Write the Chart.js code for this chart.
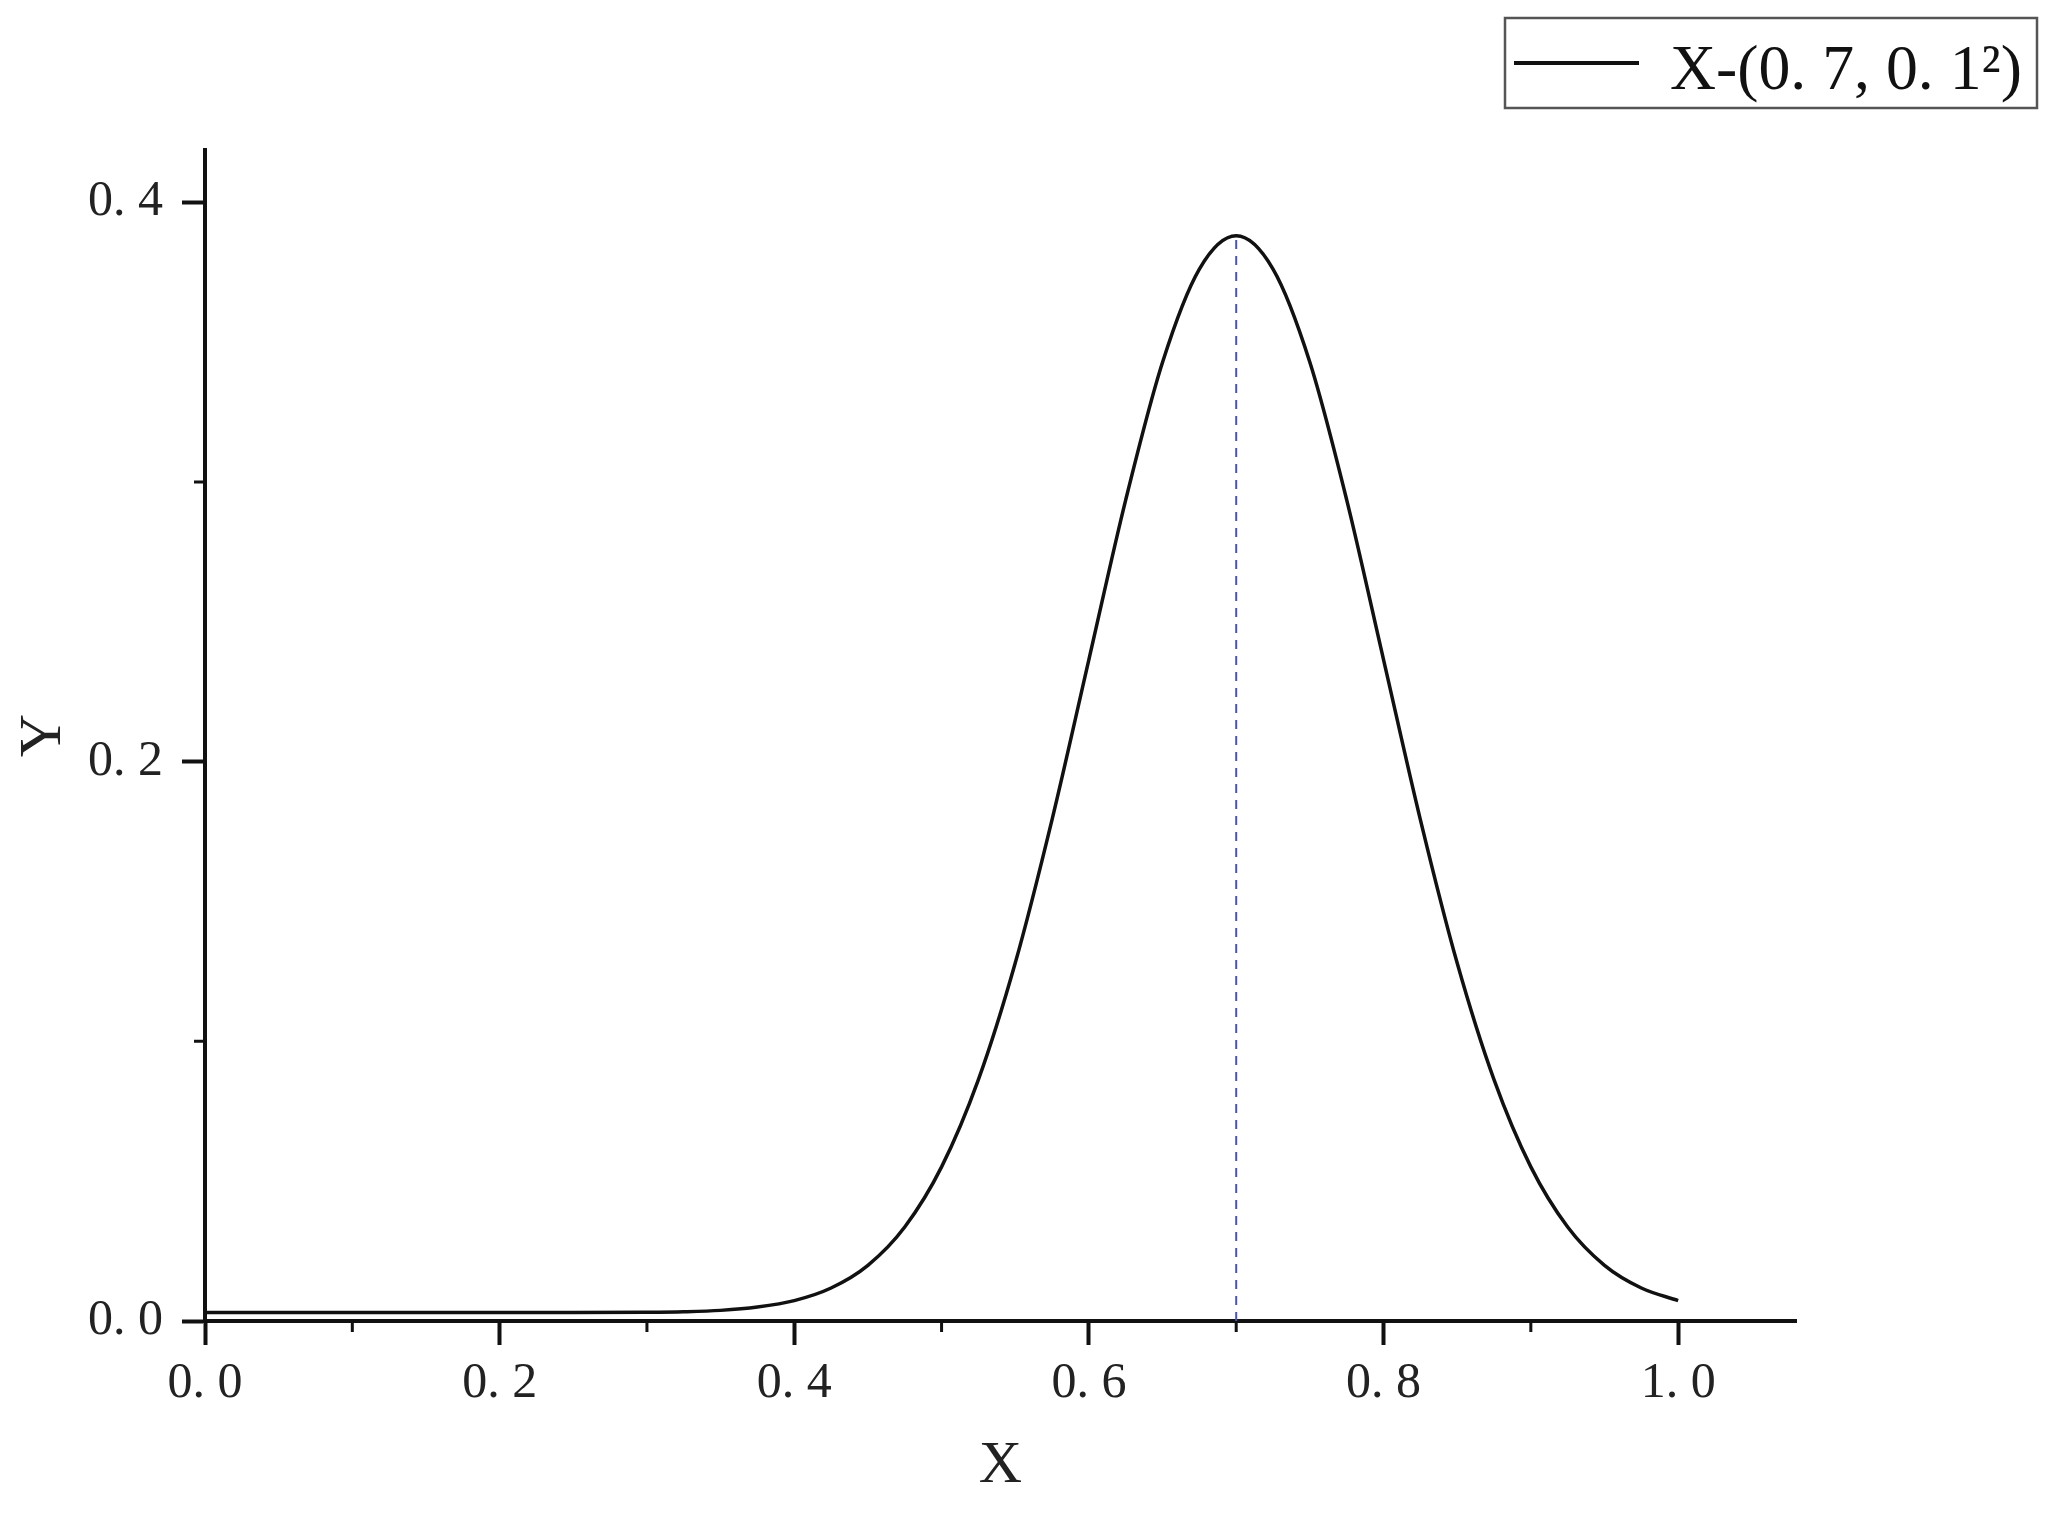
<!DOCTYPE html>
<html>
<head>
<meta charset="utf-8">
<script src="https://cdn.jsdelivr.net/npm/chart.js@4.4.0/dist/chart.umd.min.js"></script>
<style>
  html, body { margin: 0; padding: 0; background: #fff; }
  #wrap { width: 2059px; height: 1517px; }
</style>
</head>
<body>
<div id="wrap"><canvas id="curveChart" width="2059" height="1517"></canvas></div>
<script>
// values
const X_VALUES = [0, 0.1, 0.2, 0.25, 0.3, 0.325, 0.35, 0.375, 0.4, 0.425, 0.45, 0.475, 0.5,
  0.525, 0.55, 0.575, 0.6, 0.625, 0.65, 0.675, 0.7, 0.725, 0.75, 0.775, 0.8, 0.825, 0.85,
  0.875, 0.9, 0.925, 0.95, 0.975, 1.0];
const Y_VALUES = [0.003, 0.003, 0.003, 0.003, 0.0031, 0.0033, 0.0038, 0.0050, 0.0073, 0.0118,
  0.0199, 0.0336, 0.0551, 0.0863, 0.128, 0.1793, 0.2365, 0.2936, 0.3428, 0.3761, 0.388,
  0.3761, 0.3428, 0.2936, 0.2365, 0.1793, 0.128, 0.0863, 0.0551, 0.0336, 0.0199, 0.0118, 0.0073];

// dashed marker at the mean
const MEAN_X = [0.7, 0.7];
const MEAN_Y = [0, 0.388];

const SERIES_LABEL = 'X-(0. 7, 0. 1\u00B2)';
const X_MINOR = [0.1, 0.3, 0.5, 0.7, 0.9];
const Y_MINOR = [0.1, 0.3];

const FONT = "'Liberation Serif', 'DejaVu Serif', serif";
const INK = '#111';

const fmt = v => v.toFixed(1).replace('.', '. ');

// short minor ticks (Chart.js only draws one tick length)
const minorTicks = {
  id: 'minorTicks',
  afterDraw(chart) {
    const { ctx, chartArea, scales: { x, y } } = chart;
    ctx.save();
    ctx.strokeStyle = INK;
    ctx.lineWidth = 3;
    ctx.beginPath();
    X_MINOR.forEach(v => {
      const px = x.getPixelForValue(v);
      ctx.moveTo(px, chartArea.bottom);
      ctx.lineTo(px, chartArea.bottom + 11);
    });
    Y_MINOR.forEach(v => {
      const py = y.getPixelForValue(v);
      ctx.moveTo(chartArea.left - 11, py);
      ctx.lineTo(chartArea.left, py);
    });
    ctx.stroke();
    ctx.restore();
  }
};

// boxed legend in the top right corner
const boxedLegend = {
  id: 'boxedLegend',
  afterDraw(chart) {
    const { ctx } = chart;
    const ds = chart.data.datasets[0];
    ctx.save();
    ctx.strokeStyle = '#555';
    ctx.lineWidth = 2.5;
    ctx.strokeRect(1505, 18, 532, 90);
    ctx.strokeStyle = ds.borderColor;
    ctx.lineWidth = 4;
    ctx.beginPath();
    ctx.moveTo(1514, 63);
    ctx.lineTo(1639, 63);
    ctx.stroke();
    let size = 64;
    ctx.font = size + 'px ' + FONT;
    const w = ctx.measureText(ds.label).width;
    size = Math.min(64, size * 352 / w);
    ctx.font = size + 'px ' + FONT;
    ctx.fillStyle = INK;
    ctx.textBaseline = 'alphabetic';
    ctx.fillText(ds.label, 1670, 89);
    ctx.restore();
  }
};

document.addEventListener('DOMContentLoaded', () => {
  const ctx = document.getElementById('curveChart').getContext('2d');
  new Chart(ctx, {
    type: 'line',
    data: {
      datasets: [
        {
          label: SERIES_LABEL,
          data: X_VALUES.map((x, i) => ({ x, y: Y_VALUES[i] })),
          borderColor: INK,
          borderWidth: 3.5,
          pointRadius: 0,
          cubicInterpolationMode: 'monotone',
          fill: false
        },
        {
          label: 'mean',
          data: MEAN_X.map((x, i) => ({ x, y: MEAN_Y[i] })),
          borderColor: '#4a55b0',
          borderWidth: 2,
          borderDash: [9, 7],
          pointRadius: 0,
          fill: false
        }
      ]
    },
    options: {
      responsive: false,
      animation: false,
      devicePixelRatio: 1,
      layout: { padding: { left: 0, top: 150, right: 263, bottom: 0 } },
      plugins: {
        legend: { display: false },
        tooltip: { enabled: false }
      },
      scales: {
        x: {
          type: 'linear',
          min: 0,
          max: 1.08,
          afterFit: s => { s.height = 196; },
          border: { display: true, color: INK, width: 4 },
          grid: { drawOnChartArea: false, drawTicks: true, tickLength: 24, tickWidth: 4, tickColor: INK },
          ticks: {
            stepSize: 0.2,
            includeBounds: false,
            padding: 14,
            color: '#222',
            font: { family: FONT, size: 50, lineHeight: 1 },
            maxRotation: 0,
            callback: v => fmt(v)
          },
          title: {
            display: true,
            text: 'X',
            color: '#222',
            font: { family: FONT, size: 60, lineHeight: 1 },
            padding: { top: 21, bottom: 21 }
          }
        },
        y: {
          type: 'linear',
          min: 0,
          max: 0.4187,
          afterFit: s => { s.width = 205; },
          border: { display: true, color: INK, width: 4 },
          grid: { drawOnChartArea: false, drawTicks: true, tickLength: 23, tickWidth: 4, tickColor: INK },
          ticks: {
            stepSize: 0.2,
            includeBounds: false,
            padding: 19,
            color: '#222',
            font: { family: FONT, size: 50, lineHeight: 1 },
            callback: v => fmt(v)
          },
          title: {
            display: true,
            text: 'Y',
            color: '#222',
            font: { family: FONT, size: 60, lineHeight: 1 },
            padding: { top: 14, bottom: 14 }
          }
        }
      }
    },
    plugins: [minorTicks, boxedLegend]
  });
});
</script>
</body>
</html>
